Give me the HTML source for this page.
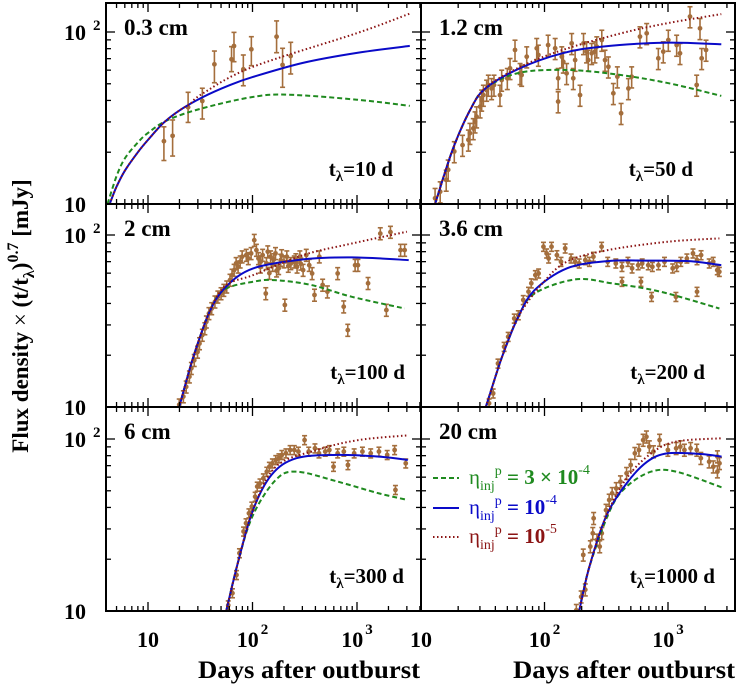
<!DOCTYPE html>
<html><head><meta charset="utf-8"><style>
html,body{margin:0;padding:0;background:#fff;}
svg{display:block;font-family:"Liberation Serif","DejaVu Serif",serif;font-weight:bold;}
</style></head><body>
<svg id="chart" width="737" height="685" viewBox="0 0 737 685" xmlns="http://www.w3.org/2000/svg">
<text transform="translate(28,316) rotate(-90)" text-anchor="middle" font-size="23">Flux density<tspan font-weight="normal"> × </tspan>(t/t<tspan font-size="16" dy="6">λ</tspan><tspan dy="-6">)</tspan><tspan font-size="16" dy="-10">0.7</tspan><tspan dy="10"> [mJy]</tspan></text>
<text x="198" y="678" font-size="25" textLength="222" lengthAdjust="spacingAndGlyphs">Days after outburst</text>
<text x="513" y="678" font-size="25" textLength="222" lengthAdjust="spacingAndGlyphs">Days after outburst</text>
<g id="plots"></g>
<g>
 <line x1="433" y1="478" x2="459" y2="478" stroke="#1f8a1f" stroke-width="2" stroke-dasharray="5,3"/>
 <text x="469" y="484" font-size="21" fill="#1f8a1f" font-weight="normal">η<tspan font-size="14" dy="6">inj</tspan><tspan font-size="14" dy="-15">p</tspan><tspan dy="9" font-weight="bold"> = 3 × 10</tspan><tspan font-size="14" dy="-10">-4</tspan></text>
 <line x1="433" y1="508" x2="459" y2="508" stroke="#0a0ac8" stroke-width="2"/>
 <text x="469" y="514" font-size="21" fill="#0a0ac8" font-weight="normal">η<tspan font-size="14" dy="6">inj</tspan><tspan font-size="14" dy="-15">p</tspan><tspan dy="9" font-weight="bold"> = 10</tspan><tspan font-size="14" dy="-10">-4</tspan></text>
 <line x1="433" y1="537" x2="459" y2="537" stroke="#8b1414" stroke-width="2" stroke-dasharray="1.5,2.5"/>
 <text x="469" y="543" font-size="21" fill="#8b1414" font-weight="normal">η<tspan font-size="14" dy="6">inj</tspan><tspan font-size="14" dy="-15">p</tspan><tspan dy="9" font-weight="bold"> = 10</tspan><tspan font-size="14" dy="-10">-5</tspan></text>
</g>
</svg>
<script>
// ---------------- data ----------------
const panelNames = ['0.3 cm','1.2 cm','2 cm','3.6 cm','6 cm','20 cm'];
const tLambda = ['10','50','100','200','300','1000'];

// 0.3 cm data
const d03_t = [14.2,17.2,24.2,33.1,43.2,63,66.5,81.7,97.5,170,194,232];
const d03_f = [23.2,24.9,36.5,39.7,64.9,69.4,82.9,60.7,79.3,93.9,64.3,72.5];
const d03_hi = [28.1,30.8,44.6,47.1,77.5,82.2,99.5,73.5,93.9,116,80.4,87.1];
const d03_lo = [17.9,19.0,29.8,31.2,50.7,58.8,67.2,48.7,63.7,75.8,47.7,57];
// 1.2 cm data
const d12_t = [13.0,14.3,16.0,16.6,18.6,21.7,24.2,24.9,26.5,27.4,28.2,30.1,31,32,34,35.1,37.3,39,43.6,45,50,52.6,57.7,63.4,65.3,71.8,86.5,89.2,107,122,129,129,138,142,151,166,171,177,194,207,219,226,241,256,265,291,309,329,361,389,417,478,508,593,672,835,916,1006,1175,1251,1507,1707,1816,1874,2032];
const d12_f = [10.8,11.8,13.8,15.8,20.2,22,23.6,25.8,27.5,30.1,32.2,36.8,40.3,43,46,49.2,47,49.2,43,52.6,53.8,61.5,78.6,57.5,56.2,71.9,80.4,73.5,84,80.4,53.8,39.4,71.9,67.1,57.5,85.9,53.8,68.7,43,85.9,76.9,68.7,75.2,76.9,82.2,89.8,68.7,62.8,44,55,33.7,47,55,94,98.2,70.3,76.9,89.8,84,75.2,123,49.2,105,70.3,78.6];
// 2 cm data
const d2_t = [19.9,21.8,23.2,24.9,26,27.7,29.8,31.1,33.1,35,36.2,38.3,40.7,43.7,46.6,50,53.2,56.7,60.9,63.7,66.7,69.7,72.8,76.2,79.6,87.1,91.2,97,104,109,114,119,125,134,136,149,156,166,178,186,204,213,233,251,267,284,305,327,349,372,392,436,469,521,653,746,816,959,1021,1276,1671,1910,2089,2612,2858,120,140,160,190,220,260,290,170,145,200];
const d2_f = [10.3,11.5,13.1,15,16.8,18.7,20.9,23.4,26.2,28.6,31.3,35,37.4,40.9,43.7,45.7,47.8,50,54.7,58.5,62.5,68.4,65.3,69.9,74.8,76.4,73.1,78.2,93.3,81.7,73.1,65.3,76.4,45.7,68.4,74.8,66.8,78.2,64,71.5,39.2,74.8,68.4,69.9,65.3,74.8,62.5,76.4,66.8,59.8,44.8,74.8,51.2,46.8,59.8,38.3,28,66.8,66.8,52.4,102,36.6,104,81.7,81.7,70,80,72,76,66,72,68,62,60,70];
// 3.6 cm data
const d36_t = [35.6,38.4,42,47.1,50.8,56.9,61.4,67.3,74.2,78.2,84.3,89.6,98.1,104,108,114,126,136,147,164,177,191,214,231,249,290,325,378,424,474,512,573,618,692,747,837,937,1091,1177,1270,1422,1593,1718,1853,2157,2323,2505,2605,736,604,424,1159,1718];
const d36_f = [10.5,12,17.9,22.4,25.6,32.7,34.2,41.9,46.8,52.4,58.5,59.8,85.5,78.2,73.1,85.5,76.4,69.9,83.6,73.1,69.9,68.4,71.5,69.9,74.8,85.5,69.9,68.4,65.3,69.9,64,66.8,68.4,66.8,65.3,66.8,69.9,64,65.3,69.9,73.1,78.2,71.5,76.4,68.4,69.9,62.5,61.1,43.7,53.5,53.5,43.7,46.8];
// 6 cm data
const d6_t = [58.6,64.3,70.3,75,82.1,86.7,92.4,98.5,106,111,118,127,137,145,155,167,179,191,209,229,251,275,315,345,396,433,497,544,596,653,748,819,939,1127,1352,1622,1945,2291,2333,2927];
const d6_f = [10.8,12.7,16.2,21.7,29,32.4,37,40.5,46.2,52.9,55.2,59.1,64.6,69,72.2,75.5,77.3,80.8,82.6,86.3,86.3,84.5,98.6,84.5,88.3,82.6,84.5,86.3,69,82.6,84.5,70.6,82.6,84.5,82.6,84.5,80.8,86.3,50.6,72.2];
// 20 cm data
const d20_t = [181,198,214,206,235,246,250,266,280,291,315,334,353,381,412,462,499,539,582,629,669,706,762,855,998,1164,1258,1358,1524,1710,1845,2153,2327,2513,2612,2513];
const d20_f = [10.1,12.1,13.3,21.2,23.7,28.3,34.6,25.9,23.7,28.3,38.6,44.2,48.3,51.6,56.5,63.2,70.6,82.6,86.3,98.6,103,90.3,84.5,98.6,86.3,88.3,90.3,86.3,88.3,86.3,77.3,73.8,69,64.6,72.2,79];
const errFrac = [0, 0.14, 0.08, 0.06, 0.06, 0.08];

// model curves (eta = 3e-4 green, 1e-4 blue, 1e-5 red)
const m03_blue_t=[4.3,5,6,8,10,13.9,20,33.6,60,100,300,1000,3200];
const m03_blue_f=[10,12.6,15.6,20,23.6,29.4,35,41.9,49,54.7,66,75.6,83];
const m03_green_t=[4.1,5,6,8,10,15.5,33.6,100,220,1000,3200];
const m03_green_f=[10,14.5,18.4,22.8,25.9,30.8,36.1,41.9,43.2,40.4,37.2];
const m03_red_t=[4.3,5,6,8,10,13.9,20,25,33.6,100,1000,3200];
const m03_red_f=[10,12.6,15.6,20,23.6,29.4,35,38,44,62.6,98.5,128];

const m12_blue_t=[13,18,25,33.4,63,139,294,933,2700];
const m12_blue_f=[10,20.6,35.2,47.1,61.5,75.2,82.2,86.7,84.8];
const m12_green_t=[13,18,25,33.4,63,158,415,1020,2700];
const m12_green_f=[10,20.6,35.2,47.1,58,60.1,56.2,50.3,42.5];
const m12_red_t=[13,18,25,33.4,63,139,415,1020,2700];
const m12_red_f=[10,20.6,35.2,47.5,62.5,78.5,98.2,113,127];

const m2_blue_t=[19.9,27.2,38.9,55.7,102,305,893,3126];
const m2_blue_f=[10,19.6,35.8,50,64,72.1,74.1,71.5];
const m2_green_t=[19.9,27.2,38.9,53.5,102,163,365,893,2860];
const m2_green_f=[10,19.6,35.8,48,53.5,54.7,51.2,43.7,37.4];
const m2_red_t=[19.9,27.2,38.9,55.7,102,305,893,3000];
const m2_red_f=[10,19.6,35.8,51,58.5,76.4,89.3,104.5];

const m36_blue_t=[33.5,45.4,61.4,83.2,152,325,692,1476,2703];
const m36_blue_f=[10,19.6,33.5,47.8,64,70.5,71,70.5,66.8];
const m36_green_t=[33.5,45.4,61.4,83.2,177,351,869,2606];
const m36_green_f=[10,19.6,33.5,45.7,55.2,52.4,46.8,37.4];
const m36_red_t=[33.5,45.4,61.4,96.6,152,325,1000,2606];
const m36_red_f=[10,19.6,33.5,52.4,70,81.7,91.4,95.6];

const m6_blue_t=[56,73.6,101,152,263,653,1622,3062];
const m6_blue_f=[10,19.8,38.6,61.8,77.3,80.8,79,75.5];
const m6_green_t=[56,73.6,101,167,263,653,1622,3062];
const m6_green_f=[10,19.8,36.1,57.8,64.6,56.5,48.3,44.2];
const m6_red_t=[56,73.6,101,167,414,1028,3062];
const m6_red_f=[10,19.8,38.6,69,86.3,98.6,105];

const m20_blue_t=[191,231,315,462,679,998,1845,2715];
const m20_blue_f=[10,18.1,35.4,55.2,73.8,82.6,81.8,79];
const m20_green_t=[191,231,340,462,733,1164,2715];
const m20_green_f=[10,18.1,38.6,52.9,64.6,64.6,52.4];
const m20_red_t=[191,231,315,462,733,1164,2715];
const m20_red_f=[10,18.1,35.4,59.1,82.6,96.6,101];

// ---------------- drawing ----------------
const NS='http://www.w3.org/2000/svg';
const X0=[106,421], X1=[421,735];
const XS=[[148,104.5],[421,123.5]];
const TOP=[3,204,407], BOT=[204,407,611];
const TMIN=[4,10], TMAX=[4100,3500];
function xp(col,t){return XS[col][0]+XS[col][1]*(Math.log10(t)-1);}
function yp(row,f){return BOT[row]-172*(Math.log10(f)-1);}
function mk(tag,attrs,parent){const e=document.createElementNS(NS,tag);for(const k in attrs)e.setAttribute(k,attrs[k]);parent.appendChild(e);return e;}
const root=document.getElementById('plots');
const defs=mk('defs',{},root);

const panelData=[
 {t:d03_t,f:d03_f,hi:d03_hi,lo:d03_lo,m:[[m03_green_t,m03_green_f],[m03_blue_t,m03_blue_f],[m03_red_t,m03_red_f]]},
 {t:d12_t,f:d12_f,m:[[m12_green_t,m12_green_f],[m12_blue_t,m12_blue_f],[m12_red_t,m12_red_f]]},
 {t:d2_t,f:d2_f,m:[[m2_green_t,m2_green_f],[m2_blue_t,m2_blue_f],[m2_red_t,m2_red_f]]},
 {t:d36_t,f:d36_f,m:[[m36_green_t,m36_green_f],[m36_blue_t,m36_blue_f],[m36_red_t,m36_red_f]]},
 {t:d6_t,f:d6_f,m:[[m6_green_t,m6_green_f],[m6_blue_t,m6_blue_f],[m6_red_t,m6_red_f]]},
 {t:d20_t,f:d20_f,m:[[m20_green_t,m20_green_f],[m20_blue_t,m20_blue_f],[m20_red_t,m20_red_f]]}
];
const tEnd=[393,693,405,705,404,715];
const styles=[
 {stroke:'#1f8a1f',dash:'5,3',name:'model-eta-3e-4'},
 {stroke:'#0a0ac8',dash:'',name:'model-eta-1e-4'},
 {stroke:'#8b1414',dash:'1.5,2.5',name:'model-eta-1e-5'}
];
function smooth(pts){
 let d='M'+pts[0][0].toFixed(1)+','+pts[0][1].toFixed(1);
 for(let i=0;i<pts.length-1;i++){
  const p0=pts[i-1]||pts[i],p1=pts[i],p2=pts[i+1],p3=pts[i+2]||p2;
  const c1=[p1[0]+(p2[0]-p0[0])/6,p1[1]+(p2[1]-p0[1])/6];
  const c2=[p2[0]-(p3[0]-p1[0])/6,p2[1]-(p3[1]-p1[1])/6];
  d+=' C'+c1[0].toFixed(1)+','+c1[1].toFixed(1)+' '+c2[0].toFixed(1)+','+c2[1].toFixed(1)+' '+p2[0].toFixed(1)+','+p2[1].toFixed(1);
 }
 return d;
}

for(let p=0;p<6;p++){
 const col=p%2,row=Math.floor(p/2);
 const x0=X0[col],x1=X1[col],y0=TOP[row],y1=BOT[row];
 const g=mk('g',{},root);
 
 
 const cp=mk('clipPath',{id:'clip'+p},defs);
 mk('rect',{x:x0,y:y0,width:x1-x0,height:y1-y0},cp);
 const pd=panelData[p];
 const dg=mk('g',{'clip-path':'url(#clip'+p+')'},g);
 
 
 for(let i=0;i<pd.t.length;i++){
  const x=xp(col,pd.t[i]),y=yp(row,pd.f[i]);
  const hi=pd.hi?pd.hi[i]:pd.f[i]*(1+errFrac[p]);
  const lo=pd.lo?pd.lo[i]:pd.f[i]*(1-errFrac[p]);
  const yh=yp(row,hi),yl=yp(row,lo);
  const pg=mk('g',{stroke:'#a46e3c',fill:'#a46e3c','stroke-width':'1.6'},dg);
  
  
  mk('line',{x1:x,y1:yh,x2:x,y2:yl},pg);
  mk('line',{x1:x-2.5,y1:yh,x2:x+2.5,y2:yh},pg);
  mk('line',{x1:x-2.5,y1:yl,x2:x+2.5,y2:yl},pg);
  mk('circle',{cx:x,cy:y,r:2.4,stroke:'none'},pg);
 }
 for(let s=0;s<3;s++){
  const [tt,ff]=pd.m[s];
  const pts=tt.map((t,i)=>[xp(col,t),yp(row,ff[i])]);
  const path=mk('path',{d:smooth(pts),fill:'none',stroke:styles[s].stroke,'stroke-width':'2','clip-path':'url(#clip'+p+')'},g);
  if(styles[s].dash)path.setAttribute('stroke-dasharray',styles[s].dash);
  
  
 }
 const tg=mk('g',{stroke:'#000','stroke-width':'1.3'},g);
 
 
 for(let dec=1;dec<=1000;dec*=10){
  for(let m=1;m<=9;m++){
   const t=dec*m; if(t<TMIN[col]||t>TMAX[col])continue;
   const x=xp(col,t); if(x<=x0+1||x>=x1-1)continue;
   const L=(m===1)?9:5;
   mk('line',{x1:x,y1:y1,x2:x,y2:y1-L},tg);
   mk('line',{x1:x,y1:y0,x2:x,y2:y0+L},tg);
  }
 }
 for(let m=1;m<=15;m++){
  const f=m<10?m*10:100+(m-10)*100; if(f<10||f>150)continue;
  const y=yp(row,f); if(y<=y0+1||y>=y1-1)continue;
  const L=(f===10||f===100)?9:5;
  mk('line',{x1:x0,y1:y,x2:x0+L,y2:y},tg);
  mk('line',{x1:x1,y1:y,x2:x1-L,y2:y},tg);
 }
 const fr=mk('rect',{x:x0,y:y0,width:x1-x0,height:y1-y0,fill:'none',stroke:'#000','stroke-width':'2'},g);
 
 
 const nl=mk('text',{x:x0+18,y:y0+32,'font-size':'23'},g);
 nl.textContent=panelNames[p];
 
 
 const tl=mk('text',{x:tEnd[p],y:y1-28,'font-size':'21','text-anchor':'end'},g);
 
 
 const a=mk('tspan',{},tl);a.textContent='t';
 const b=mk('tspan',{dy:'5','font-size':'15'},tl);b.textContent='λ';
 const c=mk('tspan',{dy:'-5'},tl);c.textContent='='+tLambda[p]+' d';
}

const ylabG=mk('g',{'font-size':'22'},root);


for(let r=0;r<3;r++){
 const a=mk('text',{x:86,y:BOT[r]+8,'text-anchor':'end'},ylabG);a.textContent='10';
 
 
 const b=mk('text',{x:86,y:yp(r,100)+8,'text-anchor':'end'},ylabG);b.textContent='10';
 
 
 const s=mk('text',{x:93,y:yp(r,100)-2,'font-size':'15'},ylabG);s.textContent='2';
}
const xlabG=mk('g',{'font-size':'22','text-anchor':'middle'},root);


const xTickVals=[10,100,1000];
const xTickExp=['','2','3'];
for(let col=0;col<2;col++){
 for(let i=0;i<3;i++){
  const x=xp(col,xTickVals[i]);
  const t=mk('text',{x:x,y:647},xlabG);
  
  
  const a=mk('tspan',{},t);a.textContent='10';
  if(xTickExp[i]){const s=mk('tspan',{dy:'-13','font-size':'15',dx:'2'},t);s.textContent=xTickExp[i];}
 }
}
</script>
</body></html>
